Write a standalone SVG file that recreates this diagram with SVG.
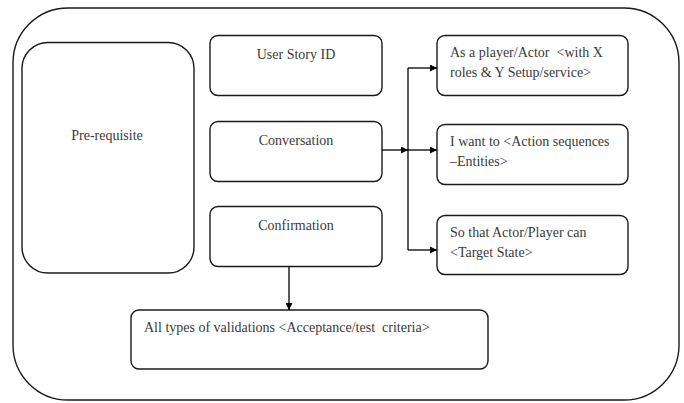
<svg xmlns="http://www.w3.org/2000/svg" width="684" height="403" viewBox="0 0 684 403">
<defs>
<style>
.box{fill:#fff;stroke:#1a1a1a;stroke-width:1.4}
.t{font-family:"Liberation Serif","Times New Roman",serif;font-size:14px;fill:#3a3a3a}
.c{fill:none;stroke:#000;stroke-width:1.3}
</style>
<marker id="ah" viewBox="0 0 10 10" refX="10" refY="5" markerWidth="7" markerHeight="7" markerUnits="userSpaceOnUse" orient="auto"><path d="M0,0 L10,5 L0,10 z" fill="#000"/></marker>
</defs>
<rect width="684" height="403" fill="#fff"/>
<g id="frame"><rect x="13" y="8" width="666" height="392" rx="55" ry="55" class="box"/></g>
<g id="prerequisite"><rect x="22" y="42.5" width="172" height="230.5" rx="26" class="box"/><text x="107" y="140" class="t" text-anchor="middle">Pre-requisite</text></g>
<g id="userstory"><rect x="210" y="35.5" width="172" height="60" rx="8" class="box"/><text x="296" y="59" class="t" text-anchor="middle">User Story ID</text></g>
<g id="conversation"><rect x="210" y="121.5" width="172" height="60" rx="8" class="box"/><text x="296" y="145" class="t" text-anchor="middle">Conversation</text></g>
<g id="confirmation"><rect x="210" y="206.5" width="172" height="60" rx="8" class="box"/><text x="296" y="230" class="t" text-anchor="middle">Confirmation</text></g>
<g id="asa"><rect x="437" y="35.5" width="191" height="60" rx="8" class="box"/><text class="t"><tspan x="450" y="57">As a player/Actor&#160; &lt;with X</tspan><tspan x="450" y="77">roles &amp; Y Setup/service&gt;</tspan></text></g>
<g id="iwant"><rect x="437" y="124.5" width="191" height="60" rx="8" class="box"/><text class="t"><tspan x="450" y="146">I want to &lt;Action sequences</tspan><tspan x="450" y="166">–Entities&gt;</tspan></text></g>
<g id="sothat"><rect x="437" y="215.5" width="191" height="59" rx="8" class="box"/><text class="t"><tspan x="450" y="237">So that Actor/Player can</tspan><tspan x="450" y="257">&lt;Target State&gt;</tspan></text></g>
<g id="validations"><rect x="131" y="310" width="357" height="59" rx="8" class="box"/><text x="144" y="332" class="t">All types of validations &lt;Acceptance/test&#160; criteria&gt;</text></g>
<g id="connectors">
<path class="c" d="M382,150 H408" marker-end="url(#ah)"/>
<path class="c" d="M408,68 V250"/>
<path class="c" d="M408,68 H437" marker-end="url(#ah)"/>
<path class="c" d="M408,150 H437" marker-end="url(#ah)"/>
<path class="c" d="M408,250 H437" marker-end="url(#ah)"/>
<path class="c" d="M289,267 V310" marker-end="url(#ah)"/>
</g>
</svg>
